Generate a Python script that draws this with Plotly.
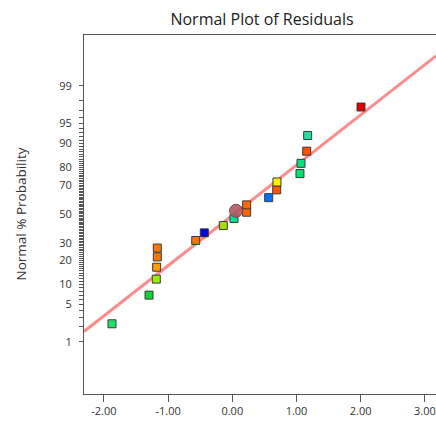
from statistics import NormalDist
import plotly.graph_objects as go

ND = NormalDist()

# Data
residuals = [-1.874, -1.297, -1.184, -1.178, -1.168, -1.168, -0.570, -0.436, -0.140, 0.026,
             0.224, 0.224, 0.567, 0.692, 0.696, 1.054, 1.070, 1.159, 1.174, 2.005]
probability = [2.28, 6.98, 11.77, 16.6, 21.7, 26.7, 31.4, 36.5, 41.6, 46.6,
               51.2, 56.5, 61.6, 66.9, 71.9, 76.8, 82.1, 87.3, 92.3, 97.4]
point_colors = ["#1de26a", "#10d03a", "#99ee00", "#ff9900", "#ff7700", "#ff7700", "#ff7000",
                "#0000ee", "#a0e000", "#00e0a0", "#ff6600", "#ff6a00", "#0070ff", "#ff5500",
                "#ffee00", "#00e070", "#00e080", "#ff5000", "#20e0a0", "#e00000"]

highlight_residual = [0.058]
highlight_probability = [52.2]

fit_residual = [-2.31, 3.18]
fit_probability = [1.62, 99.80]

major_ticks = [1, 5, 10, 20, 30, 50, 70, 80, 90, 95, 99]
all_ticks = list(range(1, 100))
x_ticks = [-2, -1, 0, 1, 2, 3]


def z(p):
    return ND.inv_cdf(p / 100.0)


yr = [-3.276, 3.253]
xr = [-2.31, 3.173]

L, R, T, B, W, H = 84, 0, 35, 27, 436, 421
pw = W - L - R

fig = go.Figure()

fig.add_trace(go.Scatter(
    x=fit_residual, y=[z(p) for p in fit_probability], mode="lines",
    line=dict(color="rgba(252,110,110,0.8)", width=3),
    hoverinfo="skip", showlegend=False))

fig.add_trace(go.Scatter(
    x=residuals, y=[z(p) for p in probability], mode="markers",
    marker=dict(symbol="square", size=8, color=point_colors,
                line=dict(color="#3a3a3a", width=1)),
    showlegend=False))

fig.add_trace(go.Scatter(
    x=highlight_residual, y=[z(p) for p in highlight_probability], mode="markers",
    marker=dict(symbol="circle", size=13, color="rgba(176,88,96,0.9)",
                line=dict(color="#7a4a4a", width=1)),
    showlegend=False))

font_family = "Open Sans, Noto Sans, sans-serif"

fig.update_layout(
    width=W, height=H,
    margin=dict(l=L, r=R, t=T, b=B, autoexpand=False),
    paper_bgcolor="white", plot_bgcolor="white",
    font=dict(family=font_family, color="#333333"),
    title=dict(text="Normal Plot of Residuals", x=(L + W) / 2 / W + 2 / W, xanchor="center",
               y=1 - 19 / H, yanchor="middle",
               font=dict(size=16, color="#222222", family=font_family)),
    xaxis=dict(range=xr, tickvals=x_ticks, ticktext=[f"{v:.2f}" for v in x_ticks],
               ticks="outside", ticklen=7, tickcolor="#555555", showline=True,
               linecolor="#555555", linewidth=1, mirror=True, showgrid=False,
               zeroline=False, automargin=False, tickfont=dict(size=11, color="#333333")),
    yaxis=dict(range=yr, tickvals=[z(p) for p in all_ticks],
               ticktext=[str(p) if p in major_ticks else "" for p in all_ticks],
               ticks="outside", ticklen=4, ticklabelstandoff=5,
               tickcolor="#555555", showline=True, linecolor="#555555", linewidth=1,
               showgrid=False, zeroline=False, automargin=False,
               tickfont=dict(size=11, color="#333333")),
    annotations=[dict(text="Normal % Probability", xref="paper", yref="paper",
                      x=(20 - L) / pw, y=0.5, textangle=-90, showarrow=False,
                      xanchor="center", yanchor="middle",
                      font=dict(size=13.5, color="#333333", family=font_family))],
)

fig.write_html("out.html", post_script="document.body.style.margin='0';",
               config={"displayModeBar": False})
